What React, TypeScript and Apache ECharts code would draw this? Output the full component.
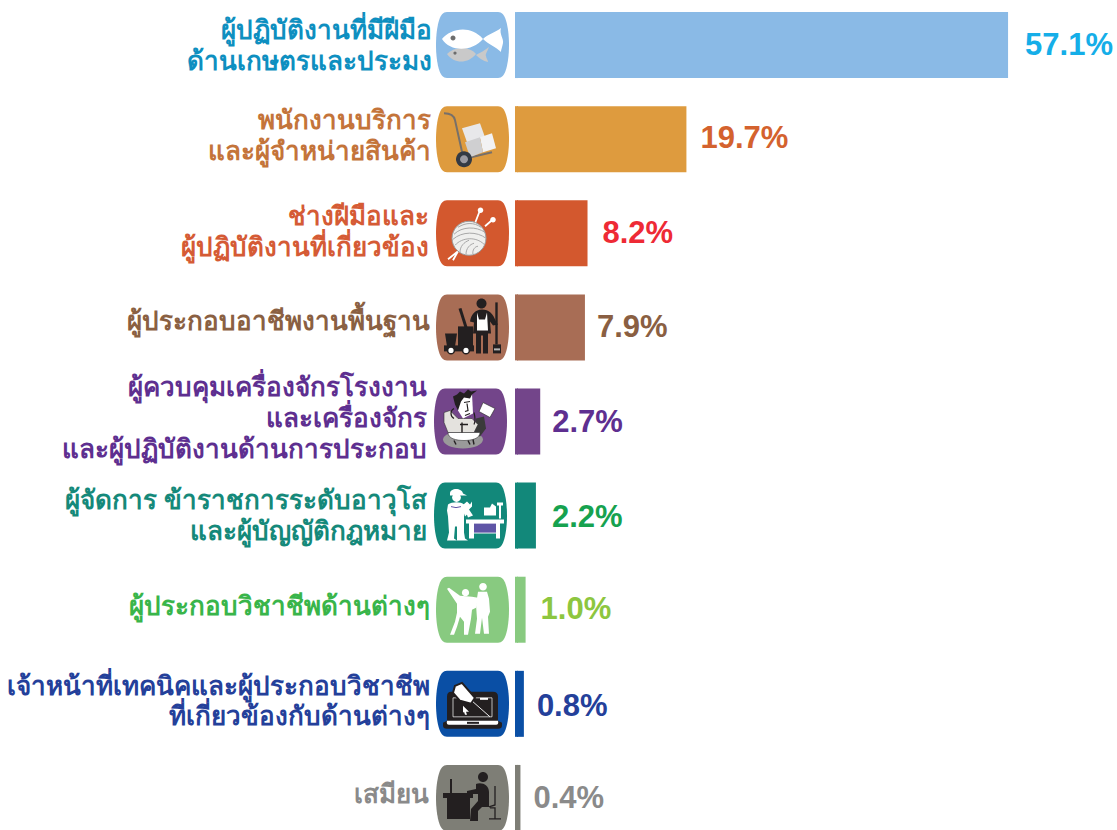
import React, { useEffect, useRef } from "react";
import * as echarts from "echarts";

const categories = [
  "ผู้ปฏิบัติงานที่มีฝีมือ\nด้านเกษตรและประมง",
  "พนักงานบริการ\nและผู้จำหน่ายสินค้า",
  "ช่างฝีมือและ\nผู้ปฏิบัติงานที่เกี่ยวข้อง",
  "ผู้ประกอบอาชีพงานพื้นฐาน",
  "ผู้ควบคุมเครื่องจักรโรงงาน\nและเครื่องจักร\nและผู้ปฏิบัติงานด้านการประกอบ",
  "ผู้จัดการ ข้าราชการระดับอาวุโส\nและผู้บัญญัติกฎหมาย",
  "ผู้ประกอบวิชาชีพด้านต่างๆ",
  "เจ้าหน้าที่เทคนิคและผู้ประกอบวิชาชีพ\nที่เกี่ยวข้องกับด้านต่างๆ",
  "เสมียน",
];
const values = [57.1, 19.7, 8.2, 7.9, 2.7, 2.2, 1.0, 0.8, 0.4];
const barColors = ["#8ABAE6", "#DE9B3E", "#D3582E", "#A86D55", "#73458A", "#12887A", "#88CA80", "#0A4FA5", "#7E7E76"];
const textColors = ["#0E8FC0", "#C4743A", "#D55B35", "#8A6042", "#5E2F90", "#15897A", "#39B54A", "#24409A", "#8A8A8A"];
const valueColors = ["#15AEE8", "#D4622E", "#EE2A35", "#8A5F42", "#5E2F90", "#16A24F", "#8DC63F", "#24409A", "#8A8A8A"];
const valueGaps = [17, 14, 15, 12, 12, 16, 15, 13, 13];
const valueDy = [-1, -2, -1, -1, 0, 1, -1, 2, 0];
const labelRightPad = [0, 1, 3, 2, 5, 5, 2, 2, 3];
const labelUp = [0, 4, 2, 6, 4, 0, 4, 3, 4];
const labelLine = [31, 31, 31, 31, 31, 31, 31, 30, 31];
const badgeOffset = [81, 81, 81, 81, 83, 83, 81, 81, 81];

const circle = (x: number, y: number, r: number) =>
  `M${x - r} ${y} C${x - r} ${y - r * 0.55} ${x - r * 0.55} ${y - r} ${x} ${y - r} C${x + r * 0.55} ${y - r} ${x + r} ${y - r * 0.55} ${x + r} ${y} C${x + r} ${y + r * 0.55} ${x + r * 0.55} ${y + r} ${x} ${y + r} C${x - r * 0.55} ${y + r} ${x - r} ${y + r * 0.55} ${x - r} ${y} Z`;
const poly = (...p: number[][]) => "M" + p.map((q) => q.join(" ")).join(" L") + " Z";
const BADGE = "M11 0 H62 C66 0 68 3 69.5 7 C72 14 73 24 73 33 C73 42 72 52 69.5 59 C68 63 66 66 62 66 H11 C7 66 5 63 3.5 59 C1 52 0 42 0 33 C0 24 1 14 3.5 7 C5 3 7 0 11 0 Z";
type Layer = { d: string; fill?: string; stroke?: string; lw?: number };
const W = "#FFFFFF", K = "#231F20";
const icons: Layer[][] = [
  [
    { d: "M11 42 C18 35 32 33 40 42 C32 52 18 52 11 42 Z", fill: "#C9C9C9" },
    { d: "M40 43 C44 41 49 38 53 35 C51 40 49 43 50 44 C50 46 52 48 52 50 C47 49 43 46 40 43 Z", fill: "#C9C9C9" },
    { d: "M6 27 C14 17 34 12 47 27 C36 40 14 40 6 27 Z M47 27 C52 22 60 20 65 16 C63 22 68 27 67 31 C66 36 65 38 65 40 C60 35 52 32 47 27 Z", fill: W },
    { d: circle(17, 26, 2.5), fill: "#6D6D6D" },
    { d: circle(19, 41, 1.6), fill: "#6D6D6D" },
  ],
  [
    { d: "M8 7 C14 7 18 9 19 14 L27 50", stroke: "#77706A", lw: 2 },
    { d: "M35 51 L56 46", stroke: "#77706A", lw: 2 },
    { d: poly([26, 22], [44, 17], [49, 31], [31, 36]), fill: "#E8E8EA" },
    { d: poly([44, 31], [56, 27], [60, 42], [47, 46]), fill: "#F2F2F4" },
    { d: poly([29, 36], [44, 31], [47, 46], [34, 51]), fill: "#CFCFD1" },
    { d: circle(28, 53, 8), fill: "#333A44" },
    { d: circle(28, 53, 4), fill: "#9A9AA2" },
  ],
  [
    { d: "M39 23 L44 10 M49 26 L57 19 M22 51 L12 59 M22 51 L17 60", stroke: W, lw: 1.8 },
    { d: circle(44.5, 10, 2.8) + " " + circle(57, 19.5, 2.8), fill: W },
    { d: circle(33, 38, 17), fill: "#EFEFED", stroke: "#9A9A9A", lw: 1 },
    { d: "M18 34 C26 26 40 26 49 32 M17 39 C26 31 41 31 50 38 M19 45 C26 37 40 36 48 44 M24 52 C24 46 28 42 33 40 M30 54 C30 48 34 44 38 43 M37 54 C36 50 39 46 42 46 M22 27 C30 22 38 22 45 27", stroke: "#A8A8A8", lw: 1 },
  ],
  [
    { d: circle(45.5, 9, 5), fill: K },
    { d: "M34 27 C35 20 39 15 46 15 C53 15 57 19 60 27 L62 30 L57 31 L54 27 L55 39 L52 39 L52 59 L47 59 L47 41 L45 41 L45 59 L40 59 L40 39 L37 39 L38 28 Z", fill: K },
    { d: poly([41, 18], [43, 25], [49, 25], [51, 18], [52, 36], [41, 36]), fill: W },
    { d: "M60.5 8 L60.5 50", stroke: K, lw: 2.4 },
    { d: "M57 50 H65 V59 H57 Z", fill: K },
    { d: "M58 54 H64 V56 H58 Z", fill: "#B5B5B5" },
    { d: "M24 14 L30 33", stroke: K, lw: 3 },
    { d: "M22 32 H37 V52 H22 Z", fill: K },
    { d: "M9 39 H21 L19 52 H11 Z", fill: K },
    { d: "M8 51 H38 V57 H8 Z", fill: K },
    { d: circle(15, 56, 3.4), fill: W, stroke: K, lw: 1.6 },
    { d: circle(30, 56, 3.4), fill: W, stroke: K, lw: 1.6 },
  ],
  [
    { d: "M9 51 C9 46 18 43 29 43 C40 43 49 46 49 51 C49 56 40 60 29 60 C18 60 9 56 9 51 Z", fill: "#9A9A9A" },
    { d: poly([42, 30], [50, 28], [52, 40], [46, 48], [40, 46]), fill: "#3A3A3A" },
    { d: poly([10, 24], [16, 22], [24, 30], [38, 30], [44, 36], [40, 44], [14, 44], [10, 34]), fill: "#E4E2DE", stroke: "#333", lw: 0.6 },
    { d: "M14 44 H46 C46 50 38 52 30 52 C22 52 14 50 14 44 Z", fill: W, stroke: "#333", lw: 0.6 },
    { d: poly([24, 9], [38, 5], [39, 25], [29, 30], [24, 22]), fill: W },
    { d: poly([19, 8], [23, 6], [26, 3], [30, 5], [34, 1], [37, 3], [43, 2], [38, 6], [36, 10], [30, 9], [27, 13], [24, 22], [21, 16]), fill: K },
    { d: "M30 14 L36 13 M33 15 L34 22 L31 23 M31 27 L36 25 M20 20 C16 22 16 28 20 30 M40 24 C41 28 42 32 40 36", stroke: K, lw: 1.2 },
    { d: poly([49, 14], [61, 20], [56, 29], [45, 23]), fill: W, stroke: "#333", lw: 0.7 },
    { d: "M26 36 H34 M28 34 V44 M34 52 L36 56 M39 51 L40 56 M20 52 L22 56", stroke: K, lw: 1.4 },
  ],
  [
    { d: "M16 11 C16 5 28 5 29 11 L33 13 L16 13 Z", fill: W },
    { d: circle(22.5, 15, 4.4), fill: W },
    { d: "M14 22 C18 19 27 19 30 22 L34 31 L31 34 L30 31 L30 50 L31 56 L34 58 L23 58 L23 44 L21 44 L20 56 L23 58 L13 58 L15 50 L14 34 L13 28 Z", fill: W },
    { d: "M17 24 Q22 26 27 24", stroke: "#5F55A6", lw: 1 },
    { d: "M32 37 H70 V41 H66 V56 H62 V51 H40 V56 H35 V41 H32 Z", fill: W },
    { d: "M40 41 H62 V50 H40 Z", fill: "#5F55A6" },
    { d: "M33 19 L36 22 L38 19 L38 24 L35 27 L39 33 L34 35 L31 27 L27 24 Z", fill: W },
    { d: "M50 33 L50 25 L56 25 L58 21 L62 24 L62 33 Z M63 20 H69 V23 H67 V36 H65 V23 H63 Z", fill: W },
  ],
  [
    { d: circle(29.5, 16, 3.6), fill: W },
    { d: "M11 12 L13 11 L24 19 L36 20 L42 21 L40 31 L36 33 L35 42 L32 58 L28 58 L28 45 L24 40 L21 50 L18 58 L14 58 L19 45 L21 36 L21 27 Z", fill: W },
    { d: circle(47, 10, 3.8), fill: W },
    { d: "M42 15 L51 15 L53 22 L54 35 L52 40 L53 57 L48 57 L46 41 L44 57 L39 57 L41 42 L40 28 Z", fill: W },
  ],
  [
    { d: "M15 21 H57 Q62 21 62 26 V50 L66 52 V55 Q66 58 62 58 H11 Q7 58 7 55 V52 L11 50 V26 Q11 21 15 21 Z", fill: K },
    { d: "M17 27 H56 V46 H17 Z", fill: K, stroke: W, lw: 0.7 },
    { d: "M11 50 H62 Q63 54 60 54 H13 Q10 54 11 50 Z", fill: W },
    { d: "M31 51 H43 V53 H31 Z", fill: K },
    { d: poly([19, 15], [26, 12], [39, 27], [35, 33], [24, 30], [17, 22]), fill: W, stroke: K, lw: 2 },
    { d: "M37 31 L54 46", stroke: W, lw: 0.9 },
    { d: poly([27, 35], [33, 41], [30, 41], [31, 44], [29, 44], [28, 41], [27, 42]), fill: W },
    { d: "M44 27 H52 V29 H44 Z", fill: W },
  ],
  [
    { d: circle(47, 12, 5), fill: K },
    { d: "M40 19 C46 17 53 20 53 27 L53 42 L46 42 L42 46 L42 56 L34 56 L35 44 L42 36 L42 29 L31 29 L31 26 L40 24 Z", fill: K },
    { d: "M7 28 H37 V33 H34 V54 H11 V33 H7 Z", fill: K },
    { d: "M14 14 H16 V28 H14 Z", fill: K },
    { d: "M59 21 L59 40 L53 42 M54 43 H59 V54 M53 54 H65", stroke: K, lw: 1.3 },
  ],
];

echarts.graphic.registerShape("badge", (echarts.graphic as any).extendPath(BADGE, {}));
icons.forEach((layers, r) =>
  layers.forEach((l, k) => echarts.graphic.registerShape(`ic${r}_${k}`, (echarts.graphic as any).extendPath(l.d, {})))
);

const THAI = '"Liberation Sans","Noto Sans",sans-serif';

export default function App() {
  const ref = useRef<HTMLDivElement>(null);
  useEffect(() => {
    const chart = echarts.init(ref.current!, null, { renderer: "svg" });
    const rich: any = {};
    categories.forEach((_, i) => {
      rich[`r${i}`] = {
        color: textColors[i], fontFamily: THAI, fontWeight: "bold", fontSize: 26, lineHeight: labelLine[i],
        padding: [0, labelRightPad[i], 0, 0], align: "right",
      };
      rich[`s${i}`] = { fontSize: 1, lineHeight: labelUp[i] * 2, color: "#FFFFFF", height: labelUp[i] * 2 };
    });
    chart.setOption({
      animation: false,
      backgroundColor: "#FFFFFF",
      grid: { left: 517, top: -2, width: 602, height: 847, outerBoundsMode: "none" },
      xAxis: { type: "value", min: 0, max: 70, show: false },
      yAxis: {
        type: "category", inverse: true, data: categories,
        axisLine: { show: false }, axisTick: { show: false },
        axisLabel: {
          margin: 85, interval: 0, align: "right",
          formatter: (v: string) => {
            const i = categories.indexOf(v);
            const body = v.split("\n").map((s) => `{r${i}|${s}}`).join("\n");
            return labelUp[i] ? `${body}\n{s${i}| }` : body;
          },
          rich,
        },
      },
      series: [
        {
          type: "bar", barWidth: 66,
          data: values.map((v, i) => ({
            value: v,
            itemStyle: { color: barColors[i] },
            label: {
              show: true, position: "right", distance: valueGaps[i], offset: [0, valueDy[i]], color: valueColors[i],
              fontFamily: '"Liberation Sans"', fontWeight: "bold", fontSize: 31,
              formatter: `${v.toFixed(1)}%`,
            },
          })),
        },
        {
          type: "custom", silent: true, clip: false,
          data: categories.map((_, i) => [0, i]),
          encode: { x: 0, y: 1 },
          renderItem: (_: any, api: any) => {
            const i = api.value(1);
            const p = api.coord([0, i]);
            return {
              type: "group", x: p[0] - badgeOffset[i], y: p[1] - 33,
              children: [
                { type: "rect", shape: { x: badgeOffset[i] - 2, y: 0, width: 3, height: 66 }, style: { fill: barColors[i] } },
                { type: "badge", style: { fill: barColors[i] } },
                ...icons[i].map((l, k) => ({
                  type: `ic${i}_${k}`,
                  style: { fill: l.fill || "none", stroke: l.stroke || "none", lineWidth: l.lw || 0 },
                })),
              ],
            };
          },
        },
      ],
    });
    return () => chart.dispose();
  }, []);
  return <div ref={ref} style={{ position: "fixed", left: 0, top: 0, width: 1117, height: 830 }} />;
}
